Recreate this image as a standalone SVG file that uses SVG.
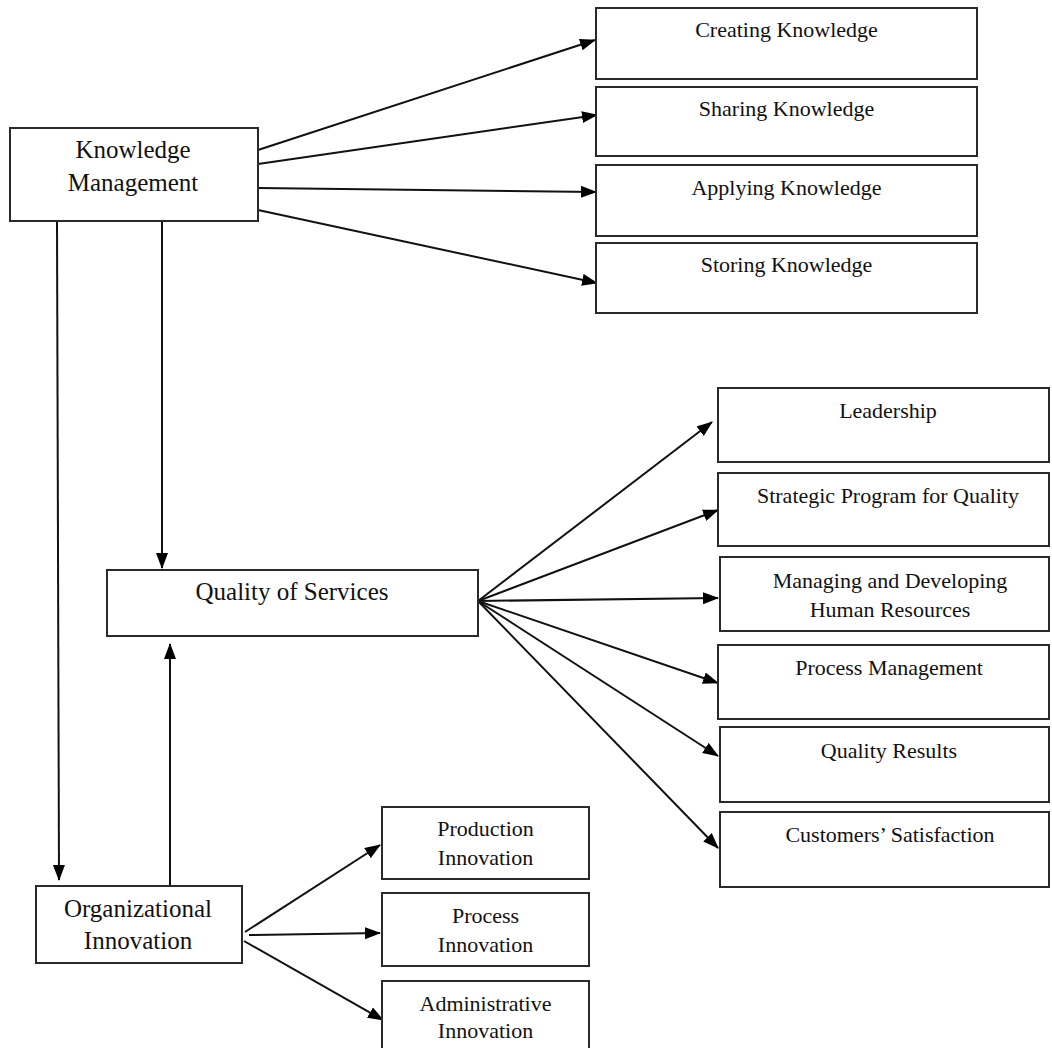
<svg xmlns="http://www.w3.org/2000/svg" width="1052" height="1048" viewBox="0 0 1052 1048">
<defs>
<style>
.box{fill:#fff;stroke:#2a2a2a;stroke-width:2}
.t{font-family:"Liberation Serif","Times New Roman",serif;font-size:22px;fill:#111;text-anchor:middle}
.tb{font-family:"Liberation Serif","Times New Roman",serif;font-size:25px;fill:#111;text-anchor:middle}
.c line{stroke:#111;stroke-width:2;marker-end:url(#ah)}
</style>
<marker id="ah" markerUnits="userSpaceOnUse" markerWidth="18" markerHeight="14" refX="15" refY="6" orient="auto">
<path d="M0,0 L16,6 L0,12 z" fill="#000"/>
</marker>
</defs>
<rect width="1052" height="1048" fill="#fff"/>
<g id="connectors" class="c">
<line x1="258" y1="150" x2="595" y2="40"/>
<line x1="258" y1="164" x2="597" y2="115"/>
<line x1="258" y1="188" x2="596" y2="192"/>
<line x1="258" y1="210" x2="597" y2="283"/>
<line x1="57" y1="222" x2="59" y2="880"/>
<line x1="162" y1="222" x2="162" y2="568"/>
<line x1="170" y1="886" x2="170" y2="644"/>
<line x1="478" y1="601" x2="712" y2="422"/>
<line x1="478" y1="601" x2="718" y2="510"/>
<line x1="478" y1="601" x2="718" y2="598"/>
<line x1="478" y1="601" x2="718" y2="683"/>
<line x1="478" y1="601" x2="718" y2="756"/>
<line x1="478" y1="601" x2="718" y2="848"/>
<line x1="245" y1="932" x2="380" y2="845"/>
<line x1="249" y1="935" x2="380" y2="933"/>
<line x1="244" y1="941" x2="383" y2="1020"/>
</g>
<g id="km">
<rect class="box" x="10" y="128" width="248" height="93"/>
<text class="tb" x="133" y="158">Knowledge</text>
<text class="tb" x="133" y="191">Management</text>
</g>
<g id="creating">
<rect class="box" x="596" y="8" width="381" height="71"/>
<text class="t" x="786.5" y="37">Creating Knowledge</text>
</g>
<g id="sharing">
<rect class="box" x="596" y="87" width="381" height="69"/>
<text class="t" x="786.5" y="116">Sharing Knowledge</text>
</g>
<g id="applying">
<rect class="box" x="596" y="165" width="381" height="71"/>
<text class="t" x="786.5" y="195">Applying Knowledge</text>
</g>
<g id="storing">
<rect class="box" x="596" y="243" width="381" height="70"/>
<text class="t" x="786.5" y="272">Storing Knowledge</text>
</g>
<g id="qos">
<rect class="box" x="107" y="570" width="371" height="66"/>
<text class="tb" x="292" y="600">Quality of Services</text>
</g>
<g id="leadership">
<rect class="box" x="718" y="388" width="331" height="74"/>
<text class="t" x="888" y="418">Leadership</text>
</g>
<g id="strategic">
<rect class="box" x="718" y="473" width="331" height="73"/>
<text class="t" x="888" y="503">Strategic Program for Quality</text>
</g>
<g id="managing">
<rect class="box" x="720" y="557" width="329" height="74"/>
<text class="t" x="890" y="588">Managing and Developing</text>
<text class="t" x="890" y="617">Human Resources</text>
</g>
<g id="process-management">
<rect class="box" x="718" y="645" width="331" height="74"/>
<text class="t" x="889" y="675">Process Management</text>
</g>
<g id="quality-results">
<rect class="box" x="720" y="727" width="329" height="75"/>
<text class="t" x="889" y="758">Quality Results</text>
</g>
<g id="customers">
<rect class="box" x="720" y="812" width="329" height="75"/>
<text class="t" x="890" y="842">Customers’ Satisfaction</text>
</g>
<g id="oi">
<rect class="box" x="36" y="886" width="206" height="77"/>
<text class="tb" x="138" y="917">Organizational</text>
<text class="tb" x="138" y="949">Innovation</text>
</g>
<g id="production">
<rect class="box" x="382" y="807" width="207" height="72"/>
<text class="t" x="485.5" y="836">Production</text>
<text class="t" x="485.5" y="865">Innovation</text>
</g>
<g id="process-innovation">
<rect class="box" x="382" y="893" width="207" height="73"/>
<text class="t" x="485.5" y="923">Process</text>
<text class="t" x="485.5" y="952">Innovation</text>
</g>
<g id="administrative">
<rect class="box" x="382" y="981" width="207" height="72"/>
<text class="t" x="485.5" y="1011">Administrative</text>
<text class="t" x="485.5" y="1038">Innovation</text>
</g>
</svg>
